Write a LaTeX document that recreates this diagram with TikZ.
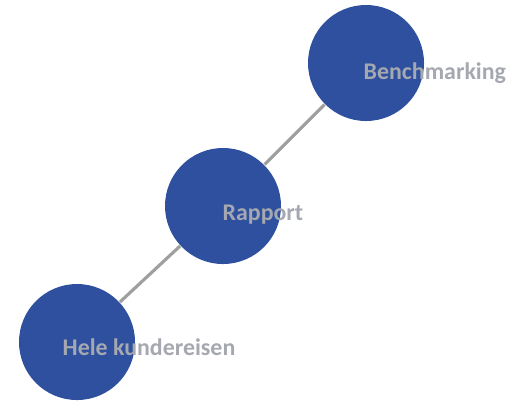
\documentclass[tikz,border=0pt]{standalone}
\usepackage{fontspec}
\setmainfont{Carlito}
\usetikzlibrary{positioning}
\definecolor{stageblue}{RGB}{46,80,158}
\definecolor{labelgray}{RGB}{165,168,176}

\begin{document}
\begin{tikzpicture}[
  stage/.style={
    circle,
    fill=stageblue,
    minimum size=1.16cm,
    inner sep=0pt
  },
  stage label/.style={
    anchor=mid west,
    inner sep=0pt,
    text=labelgray,
    font=\bfseries\fontsize{6.8}{8}\selectfont
  },
  link/.style={
    draw=gray!75,
    line width=0.9pt
  }
]
\useasboundingbox (0,0) rectangle (5.12,4.00);
\node[stage] (kunde) at (0.77,0.58) {};
\node[stage] (rapport) at (2.23,1.94) {};
\node[stage] (bench) at (3.66,3.37) {};
\draw[link] (kunde) -- (rapport);
\draw[link] (rapport) -- (bench);
\node[stage label] (kunde text) at ([xshift=-0.15cm,yshift=-0.05cm]kunde.center) {Hele kundereisen};
\node[stage label] (rapport text) at ([xshift=-0.01cm,yshift=-0.06cm]rapport.center) {Rapport};
\node[stage label] (bench text) at ([xshift=-0.03cm,yshift=-0.08cm]bench.center) {Benchmarking};
\end{tikzpicture}
\end{document}
